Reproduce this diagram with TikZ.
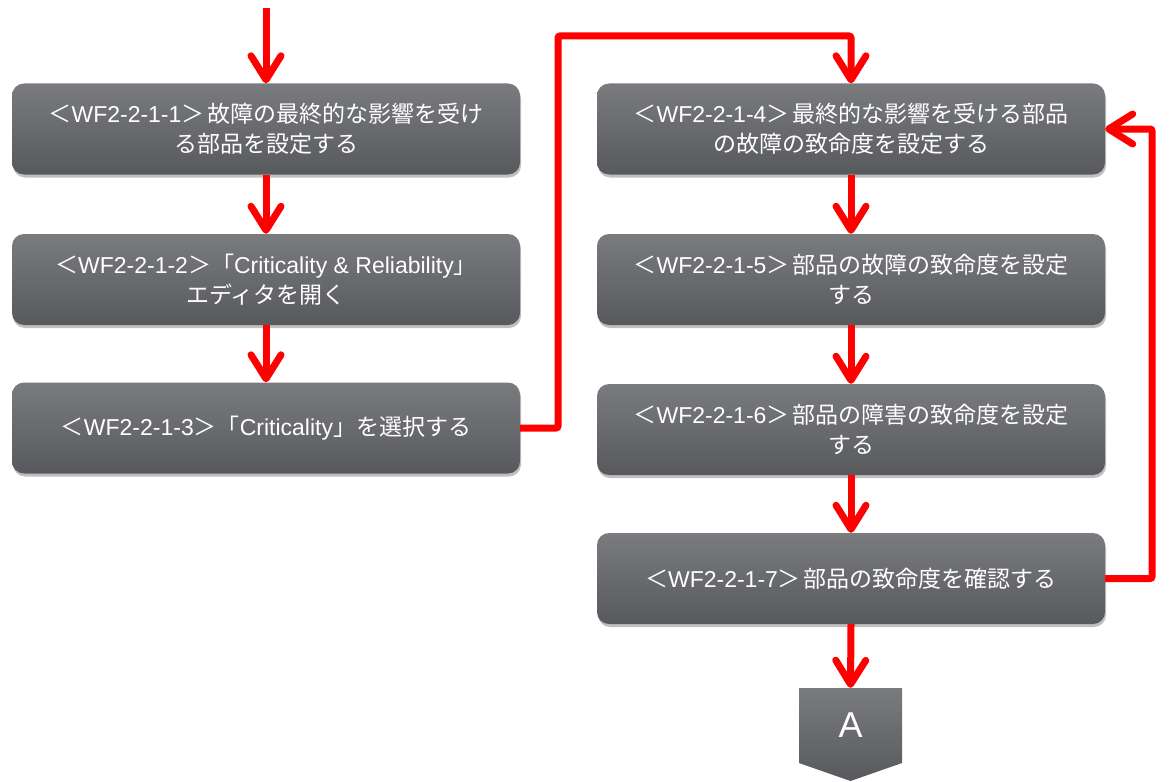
\documentclass[tikz,border=0pt]{standalone}
\usepackage{fontspec}
\setmainfont{Liberation Sans}
\newfontfamily\cjk{Noto Sans CJK JP}
\usetikzlibrary{arrows.meta,shadows}
\definecolor{redline}{HTML}{FF0000}
\definecolor{boxtop}{HTML}{7A7B7F}
\definecolor{boxbot}{HTML}{58595D}
\newcommand{\gt}{{\cjk ＞}\hspace{3pt}}
\begin{document}
\begin{tikzpicture}[x=1pt,y=-1pt,
  stepbox/.style={rounded corners=12pt, top color=boxtop, bottom color=boxbot,
    draw=none, minimum width=508pt, minimum height=91pt, text=white,
    align=center, font=\fontsize{23}{29.5}\selectfont, inner sep=0pt,
    drop shadow={shadow xshift=1pt, shadow yshift=-3pt, opacity=0.25, fill=black}},
  flow/.style={draw=redline, line width=7pt,
    -{Straight Barb[length=24pt,width=30pt,round]}, rounded corners=2pt}]
\useasboundingbox (0,0) rectangle (1174,781);

\node[stepbox] (b1) at (266,129) {{\cjk ＜}WF2-2-1-1\gt{\cjk 故障の最終的な影響を受け}\\{\cjk る部品を設定する}};
\node[stepbox] (b2) at (266,279.5) {{\cjk ＜}WF2-2-1-2{\cjk ＞「}Criticality \& Reliability{\cjk 」}\\{\cjk エディタを開く}};
\node[stepbox] (b3) at (266,428) {{\cjk ＜}WF2-2-1-3{\cjk ＞「}Criticality{\cjk 」を選択する}};

\node[stepbox] (b4) at (851,129) {{\cjk ＜}WF2-2-1-4\gt{\cjk 最終的な影響を受ける部品}\\{\cjk の故障の致命度を設定する}};
\node[stepbox] (b5) at (851,279.5) {{\cjk ＜}WF2-2-1-5\gt{\cjk 部品の故障の致命度を設定}\\{\cjk する}};
\node[stepbox] (b6) at (851,429.5) {{\cjk ＜}WF2-2-1-6\gt{\cjk 部品の障害の致命度を設定}\\{\cjk する}};
\node[stepbox] (b7) at (851,578.5) {{\cjk ＜}WF2-2-1-7\gt{\cjk 部品の致命度を確認する}};

\path[top color=boxtop, bottom color=boxbot] (799,688) -- (902,688) -- (902,763) -- (850.5,781) -- (799,763) -- cycle;
\node[text=white, font=\fontsize{36}{40}\selectfont, minimum width=103pt, minimum height=75pt, inner sep=0pt] (A) at (850.5,725.5) {A};

\coordinate (start) at (266,8);
\coordinate (c1) at (558,36);
\coordinate (c2) at (1152,129);

\draw[flow] (start) -- (b1.north);
\draw[flow] (b1.south) -- (b2.north);
\draw[flow] (b2.south) -- (b3.north);
\draw[flow] (b3.east) -| (c1) -| (b4.north);
\draw[flow] (b4.south) -- (b5.north);
\draw[flow] (b5.south) -- (b6.north);
\draw[flow] (b6.south) -- (b7.north);
\draw[flow] (b7.east) -| (c2) -- (b4.east);
\draw[flow] (b7.south) -- (A.north);
\end{tikzpicture}
\end{document}
